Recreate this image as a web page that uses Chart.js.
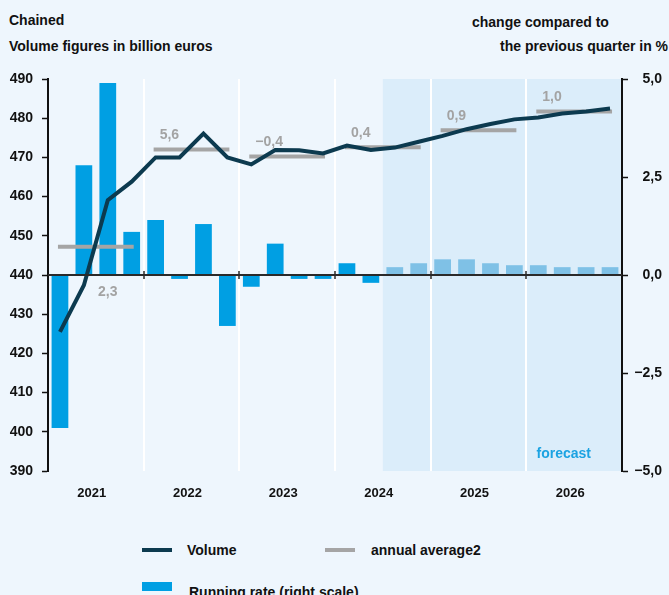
<!DOCTYPE html>
<html>
<head>
<meta charset="utf-8">
<script src="https://cdn.jsdelivr.net/npm/chart.js@4.4.1/dist/chart.umd.min.js"></script>
<style>
  html, body { margin: 0; padding: 0; }
  body {
    width: 669px; height: 595px; overflow: hidden; position: relative;
    background: #eef6fd; color: #111;
    font-family: "Liberation Sans", Arial, sans-serif; font-weight: bold; font-size: 14px;
  }
  .txt { position: absolute; white-space: nowrap; line-height: 16px; }
  .sym { position: absolute; }
  #chartBox { position: absolute; left: 0; top: 0; }
</style>
</head>
<body>
<div class="txt" style="left:9px; top:12px">Chained</div>
<div class="txt" style="left:9px; top:38px">Volume figures in billion euros</div>
<div class="txt" style="left:472px; top:14px">change compared to</div>
<div class="txt" style="left:500px; top:38px">the previous quarter in %</div>

<canvas id="chartBox" width="669" height="510"></canvas>

<div class="sym" style="left:142px; top:548px; width:30px; height:4px; background:#0c3a4f"></div>
<div class="txt" style="left:187px; top:542px">Volume</div>
<div class="sym" style="left:325px; top:548px; width:30px; height:4px; background:#a5a5a5"></div>
<div class="txt" style="left:371px; top:542px">annual average2</div>
<div class="sym" style="left:142px; top:582px; width:30px; height:9px; background:#009fe3"></div>
<div class="txt" style="left:189px; top:584px">Running rate (right scale)</div>

<script>
const quarters = [
  'Q1 2021', 'Q2 2021', 'Q3 2021', 'Q4 2021',
  'Q1 2022', 'Q2 2022', 'Q3 2022', 'Q4 2022',
  'Q1 2023', 'Q2 2023', 'Q3 2023', 'Q4 2023',
  'Q1 2024', 'Q2 2024', 'Q3 2024', 'Q4 2024',
  'Q1 2025', 'Q2 2025', 'Q3 2025', 'Q4 2025',
  'Q1 2026', 'Q2 2026', 'Q3 2026', 'Q4 2026'
];
const years = ['2021', '2022', '2023', '2024', '2025', '2026'];
const forecastFrom = 'Q3 2024';

// chained volume, billion euros
const volume = [
  425.5, 437.4, 459.1, 463.8,
  470.0, 470.0, 476.1, 470.0,
  468.2, 471.9, 471.8, 471.0,
  473.0, 471.9, 472.5, 474.0,
  475.5, 477.2, 478.5, 479.7,
  480.2, 481.2, 481.7, 482.5
];
// change on previous quarter, %
const runningRate = [
  -3.9, 2.8, 4.9, 1.1,
  1.4, -0.1, 1.3, -1.3,
  -0.3, 0.8, -0.1, -0.1,
  0.3, -0.2, 0.2, 0.3,
  0.4, 0.4, 0.3, 0.25,
  0.25, 0.2, 0.2, 0.2
];
// annual average level and yearly change in %
const annualLevel = [447.2, 472.0, 470.2, 472.6, 476.9, 481.7];
const annualChange = [2.3, 5.6, -0.4, 0.4, 0.9, 1.0];

const leftTicks = [390, 400, 410, 420, 430, 440, 450, 460, 470, 480, 490];
const rightTicks = [-5, -2.5, 0, 2.5, 5];

const fmt = v => v.toFixed(1).replace('.', ',').replace('-', '\u2212');
const forecastIdx = quarters.indexOf(forecastFrom);
const labelFont = 'bold 14px "Liberation Sans", Arial, sans-serif';
const yearFont = 'bold 13px "Liberation Sans", Arial, sans-serif';

Chart.defaults.font.family = '"Liberation Sans", Arial, sans-serif';

// one grey segment per year
const annualSets = years.map((yr, i) => ({
  type: 'line',
  label: 'annual average2',
  data: quarters.map((q, j) => Math.floor(j / 4) === i ? annualLevel[i] : null),
  yAxisID: 'y',
  borderColor: '#a5a5a5',
  borderWidth: 4,
  borderCapStyle: 'square',
  pointRadius: 0,
  spanGaps: false,
  order: 1
}));

const backdrop = {
  id: 'backdrop',
  beforeDraw(chart) {
    const ctx = chart.ctx;
    const area = chart.chartArea;
    const x = chart.scales.x;
    const half = (x.getPixelForValue(1) - x.getPixelForValue(0)) / 2;
    const fx = x.getPixelForValue(forecastIdx) - half;

    ctx.save();
    ctx.fillStyle = '#dbedfa';
    ctx.fillRect(fx, area.top, area.right - fx, area.bottom - area.top);

    // white separators between years
    ctx.strokeStyle = '#ffffff';
    ctx.lineWidth = 2;
    for (let k = 4; k < quarters.length; k += 4) {
      const bx = Math.round(x.getPixelForValue(k) - half);
      ctx.beginPath();
      ctx.moveTo(bx, area.top);
      ctx.lineTo(bx, area.bottom);
      ctx.stroke();
    }
    ctx.restore();
  },
  afterDatasetsDraw(chart) {
    const ctx = chart.ctx;
    const area = chart.chartArea;
    const x = chart.scales.x;
    const y = chart.scales.y;
    const y0 = chart.scales.y1.getPixelForValue(0);
    const half = (x.getPixelForValue(1) - x.getPixelForValue(0)) / 2;

    ctx.save();
    // zero line with year ticks
    ctx.strokeStyle = '#2a2a2a';
    ctx.lineWidth = 2;
    ctx.beginPath();
    ctx.moveTo(area.left, y0);
    ctx.lineTo(area.right, y0);
    ctx.stroke();
    ctx.lineWidth = 1.5;
    for (let k = 4; k < quarters.length; k += 4) {
      const bx = Math.round(x.getPixelForValue(k) - half);
      ctx.beginPath();
      ctx.moveTo(bx, y0 - 4);
      ctx.lineTo(bx, y0 + 4);
      ctx.stroke();
    }

    // yearly change labels
    ctx.font = labelFont;
    ctx.fillStyle = '#a3a3a3';
    ctx.textBaseline = 'middle';
    annualChange.forEach((v, i) => {
      if (i === 0) {
        ctx.textAlign = 'center';
        ctx.fillText(fmt(v), x.getPixelForValue(2), y0 + 17);
      } else {
        ctx.textAlign = 'left';
        ctx.fillText(fmt(v), x.getPixelForValue(4 * i) + 4, y.getPixelForValue(annualLevel[i]) - 14);
      }
    });

    ctx.fillStyle = '#1ba3e2';
    ctx.textAlign = 'right';
    ctx.fillText('forecast', area.right - 31, area.bottom - 17);

    // year labels under the plot
    ctx.font = yearFont;
    ctx.fillStyle = '#111';
    ctx.textAlign = 'center';
    years.forEach((yr, i) => {
      const cx = (x.getPixelForValue(4 * i) + x.getPixelForValue(4 * i + 3)) / 2 - 4;
      ctx.fillText(yr, cx, area.bottom + 22);
    });
    ctx.restore();
  }
};

new Chart(document.getElementById('chartBox').getContext('2d'), {
  data: {
    labels: quarters,
    datasets: [
      {
        type: 'line',
        label: 'Volume',
        data: volume,
        yAxisID: 'y',
        borderColor: '#0c3a4f',
        borderWidth: 4,
        pointRadius: 0,
        tension: 0,
        order: 0
      },
      ...annualSets,
      {
        type: 'bar',
        label: 'Running rate (right scale)',
        data: runningRate,
        yAxisID: 'y1',
        backgroundColor: quarters.map((q, i) => i >= forecastIdx ? '#7fc1e6' : '#009fe3'),
        barPercentage: 0.7,
        categoryPercentage: 1,
        order: 2
      }
    ]
  },
  options: {
    responsive: false,
    animation: false,
    devicePixelRatio: 1,
    layout: { padding: { top: 79, right: 7, left: 0, bottom: 39 } },
    plugins: { legend: { display: false }, tooltip: { enabled: false } },
    scales: {
      x: { display: false },
      y: {
        position: 'left',
        min: 390,
        max: 490,
        grid: { drawOnChartArea: false, tickLength: 6, tickColor: '#111', tickWidth: 1.5 },
        border: { color: '#111', width: 2 },
        ticks: { font: { size: 14, weight: 'bold' }, color: '#111', padding: 9 },
        afterBuildTicks(axis) { axis.ticks = leftTicks.map(v => ({ value: v })); },
        afterFit(s) { s.width = 48; }
      },
      y1: {
        position: 'right',
        min: -5,
        max: 5,
        grid: { drawOnChartArea: false, tickLength: 6, tickColor: '#111', tickWidth: 1.5 },
        border: { color: '#111', width: 2 },
        ticks: { font: { size: 14, weight: 'bold' }, color: '#111', crossAlign: 'far', callback: v => fmt(v) },
        afterBuildTicks(axis) { axis.ticks = rightTicks.map(v => ({ value: v })); },
        afterFit(s) { s.width = 40; }
      }
    }
  },
  plugins: [backdrop]
});
</script>
</body>
</html>
